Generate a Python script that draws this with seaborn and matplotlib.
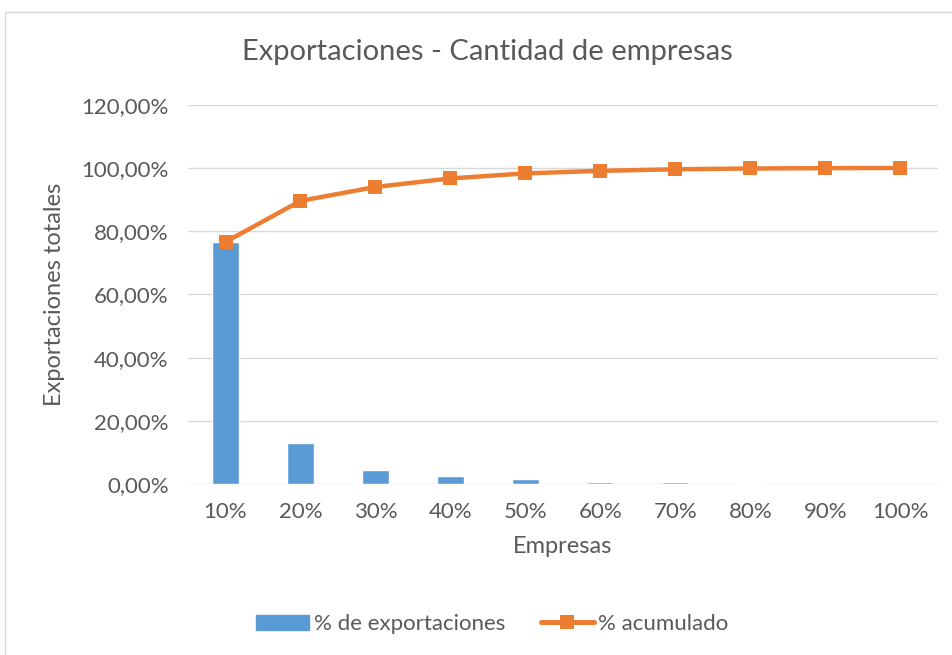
import numpy as np
import pandas as pd
import matplotlib.pyplot as plt
import matplotlib.patches as mpatches
from matplotlib.lines import Line2D
from matplotlib.ticker import FuncFormatter
import seaborn as sns

# --- data ---
empresas = ["10%", "20%", "30%", "40%", "50%", "60%", "70%", "80%", "90%", "100%"]
pct_export = [76.6, 13.0, 4.4, 2.7, 1.6, 0.8, 0.5, 0.25, 0.1, 0.05]
pct_acum = [76.6, 89.6, 94.0, 96.7, 98.3, 99.1, 99.6, 99.85, 99.95, 100.0]

df = pd.DataFrame({"empresas": empresas, "export": pct_export, "acum": pct_acum})

sns.set_style("white")
plt.rcParams["font.family"] = ["Lato", "DejaVu Sans"]
txt = "#595959"
blue = "#5B9BD5"
orange = "#ED7D31"

fig = plt.figure(figsize=(9.52, 6.55), dpi=100)
ax = fig.add_axes([0.1975, 0.261, 0.7875, 0.579])

# outer chart border
fig.patches.append(mpatches.Rectangle((5 / 952, -0.01), 1.0, 1 - 12 / 655 + 0.01,
                                      transform=fig.transFigure, fill=False,
                                      edgecolor="#D9D9D9", linewidth=1))

sns.barplot(data=df, x="empresas", y="export", color=blue, width=0.35,
            saturation=1, ax=ax, zorder=3)
sns.lineplot(x=np.arange(len(empresas)), y=df["acum"], color=orange, linewidth=3.2,
             marker="s", markersize=10, markeredgewidth=0, ax=ax, zorder=4)

ax.set_ylim(0, 120)
ax.set_xlim(-0.5, len(empresas) - 0.5)
ax.set_yticks(np.arange(0, 121, 20))
ax.yaxis.set_major_formatter(FuncFormatter(lambda v, p: f"{v:.2f}%".replace(".", ",")))
ax.grid(axis="y", color="#D9D9D9", linewidth=1, zorder=0)
ax.set_axisbelow(True)
for s in ax.spines.values():
    s.set_visible(False)
ax.tick_params(axis="both", length=0, labelsize=16, colors=txt)
ax.tick_params(axis="y", pad=14)
ax.tick_params(axis="x", pad=13)

ax.set_xlabel("Empresas", fontsize=17, color=txt, labelpad=10)
ax.set_ylabel("Exportaciones totales", fontsize=17, color=txt, labelpad=12)
fig.text(0.512, 0.921, "Exportaciones - Cantidad de empresas", ha="center", va="center",
         fontsize=21, color=txt)

handles = [mpatches.Patch(color=blue, label="% de exportaciones"),
           Line2D([], [], color=orange, linewidth=3.6, marker="s", markersize=10,
                  markeredgewidth=0, label="% acumulado")]
fig.legend(handles=handles, loc="center", bbox_to_anchor=(0.517, 0.047), ncol=2,
           frameon=False, fontsize=16, labelcolor=txt, handlelength=2.4,
           handletextpad=0.2, columnspacing=1.6)

fig.savefig("out.png", dpi=100)
